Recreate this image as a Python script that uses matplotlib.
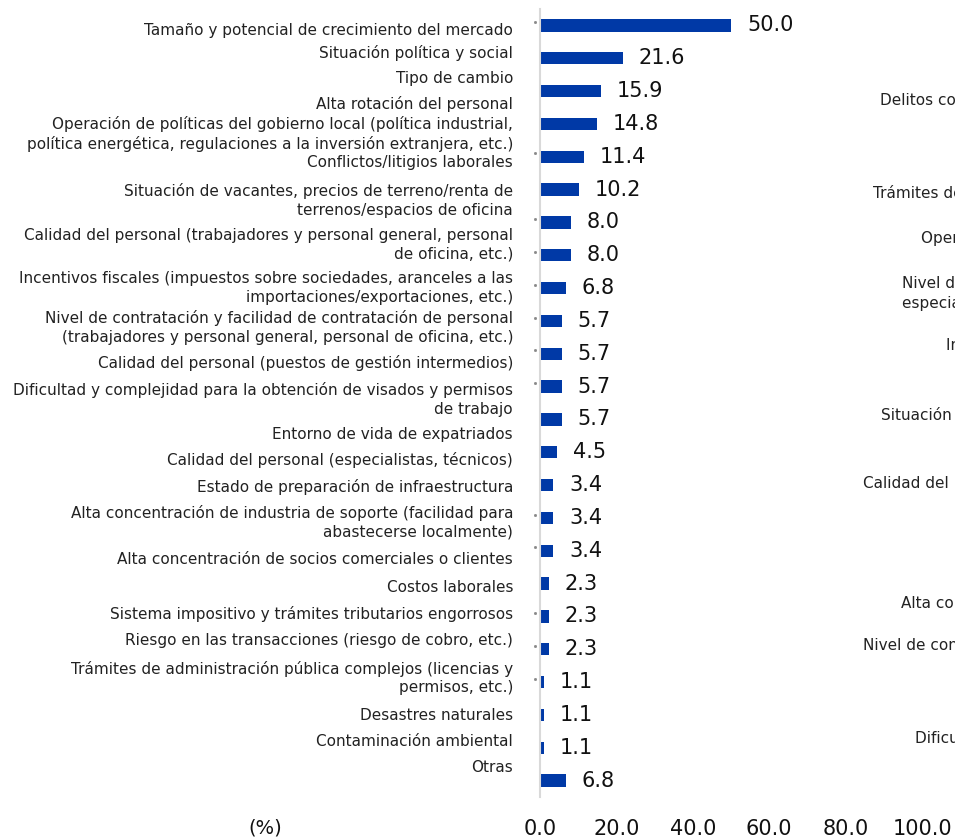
import matplotlib.pyplot as plt

plt.rcParams['font.family'] = ['DejaVu Sans']

# Factores (porcentaje de empresas que lo señalan)
factores = [
    'Tamaño y potencial de crecimiento del mercado',
    'Situación política y social',
    'Tipo de cambio',
    'Alta rotación del personal',
    'Operación de políticas del gobierno local (política industrial,\n'
    'política energética, regulaciones a la inversión extranjera, etc.)',
    'Conflictos/litigios laborales',
    'Situación de vacantes, precios de terreno/renta de\n'
    'terrenos/espacios de oficina',
    'Calidad del personal (trabajadores y personal general, personal\n'
    'de oficina, etc.)',
    'Incentivos fiscales (impuestos sobre sociedades, aranceles a las\n'
    'importaciones/exportaciones, etc.)',
    'Nivel de contratación y facilidad de contratación de personal\n'
    '(trabajadores y personal general, personal de oficina, etc.)',
    'Calidad del personal (puestos de gestión intermedios)',
    'Dificultad y complejidad para la obtención de visados y permisos\n'
    'de trabajo',
    'Entorno de vida de expatriados',
    'Calidad del personal (especialistas, técnicos)',
    'Estado de preparación de infraestructura',
    'Alta concentración de industria de soporte (facilidad para\n'
    'abastecerse localmente)',
    'Alta concentración de socios comerciales o clientes',
    'Costos laborales',
    'Sistema impositivo y trámites tributarios engorrosos',
    'Riesgo en las transacciones (riesgo de cobro, etc.)',
    'Trámites de administración pública complejos (licencias y\n'
    'permisos, etc.)',
    'Desastres naturales',
    'Contaminación ambiental',
    'Otras',
]
valores = [50.0, 21.6, 15.9, 14.8, 11.4, 10.2, 8.0, 8.0, 6.8, 5.7, 5.7, 5.7,
           5.7, 4.5, 3.4, 3.4, 3.4, 2.3, 2.3, 2.3, 1.1, 1.1, 1.1, 6.8]
ticks_x = [0, 20, 40, 60, 80, 100]

# filas con un pequeño punto gris junto al eje
filas_punto = [0, 4, 6, 7, 8, 9, 10, 11, 15, 16, 18, 19, 20]

# etiquetas del gráfico contiguo (quedan cortadas por el borde)
etiquetas_vecinas = [
    'Delitos comunes, seguridad',
    'Trámites de administración pública complejos',
    'Operación de políticas del gobierno local',
    'Nivel de contratación y facilidad de contratación\nespecialistas, técnicos',
    'Incentivos fiscales',
    'Situación política y social',
    'Calidad del personal',
    'Alta concentración de industria de soporte',
    'Nivel de contratación y facilidad de contratación',
    'Dificultad y complejidad para la obtención',
]

# posiciones verticales (px desde arriba) de las etiquetas de la izquierda
label_y_px = [30, 53, 79, 104, 134, 163, 200.5, 244.5, 288, 327.5, 363, 399.5,
              434, 460, 487, 522.5, 560, 587, 614, 641, 678, 715, 742, 768]
# posiciones (x, y en px) de las etiquetas vecinas
vecinas_xy = [(880, 100), (873, 193), (921, 238), (902, 293), (946, 345),
              (881, 415), (863, 484), (901, 603), (863, 645), (915, 738)]

W, H = 955, 840
AZUL = '#0039A6'

fig = plt.figure(figsize=(W / 100, H / 100), dpi=100)
ax = fig.add_axes([540 / W, 1 - 797 / H, 382 / W, 788 / H])

pos = list(range(len(valores)))
ax.barh(pos, valores, height=0.38, color=AZUL)
for i, v in zip(pos, valores):
    ax.annotate(f'{v:.1f}', (v, i), xytext=(11.5, 0), textcoords='offset points',
                va='center', ha='left', fontsize=15, color='#111111')

ax.plot([-1.3] * len(filas_punto), [f - 0.1 for f in filas_punto], 's',
        ms=1.0, color='#888888', clip_on=False)

ax.set_xlim(0, 100)
ax.set_ylim(len(valores) - 0.5, -0.5)
ax.set_xticks(ticks_x)
ax.set_xticklabels([f'{t:.1f}' for t in ticks_x], fontsize=15, color='#111111')
ax.tick_params(axis='x', length=0, pad=16)
ax.set_yticks([])
for s in ['top', 'right', 'bottom']:
    ax.spines[s].set_visible(False)
ax.spines['left'].set_color('#D9D9D9')
ax.spines['left'].set_linewidth(1.5)

for txt, y in zip(factores, label_y_px):
    fig.text(513 / W, 1 - y / H, txt, ha='right', va='center', fontsize=11,
             color='#222222', linespacing=1.3)

for txt, (x, y) in zip(etiquetas_vecinas, vecinas_xy):
    fig.text(x / W, 1 - y / H, txt, ha='left', va='center', fontsize=11,
             color='#222222', linespacing=1.3)

fig.text(265 / W, 1 - 828 / H, '(%)', ha='center', va='center', fontsize=14,
         color='#111111')

fig.savefig('out.png', dpi=100)
